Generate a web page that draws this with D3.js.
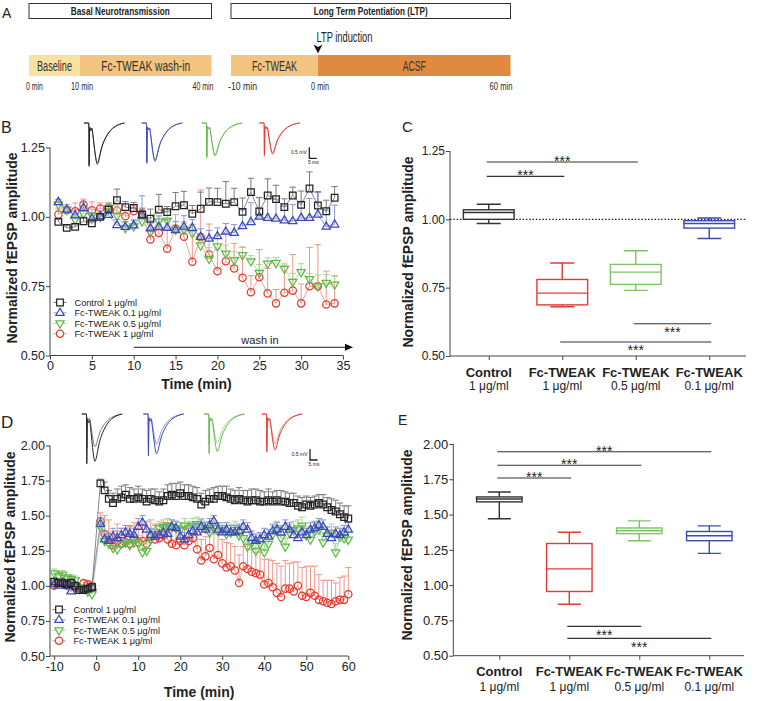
<!DOCTYPE html>
<html><head><meta charset="utf-8">
<script src="https://cdn.jsdelivr.net/npm/d3@7"></script>
<style>
body{margin:0;background:#fff}
svg{display:block}
text{font-family:"Liberation Sans",Arial,Helvetica,sans-serif;fill:#222}
</style>
</head><body>
<svg id="c" width="757" height="701"></svg>
<script>
// ---------------- DATA ----------------
// Panel A protocol
const basalLabels = ["Baseline", "Fc-TWEAK wash-in"];
const basalBounds = [0, 10, 40];
const basalTickLabels = ["0 min", "10 min", "40 min"];
const ltpLabels = ["Fc-TWEAK", "ACSF"];
const ltpBounds = [-10, 0, 60];
const ltpTickLabels = ["-10 min", "0 min", "60 min"];

// Series names / legend
const seriesNames = ["Control 1 μg/ml", "Fc-TWEAK 0.1 μg/ml", "Fc-TWEAK 0.5 μg/ml", "Fc-TWEAK 1 μg/ml"];

// Panel B (basal transmission, wash-in)
const bTime = [1,2,3,4,5,6,7,8,9,10,11,12,13,14,15,16,17,18,19,20,21,22,23,24,25,26,27,28,29,30,31,32,33,34];
const bControl = [0.982,0.960,0.964,0.984,0.977,1.000,1.026,1.060,1.035,1.032,1.008,0.993,1.026,1.017,1.038,1.042,1.011,1.029,1.054,1.053,1.047,1.053,1.018,1.089,1.019,1.077,1.064,1.035,1.077,1.043,1.102,1.041,1.020,1.069];
const bControlErr = [0.01,0.01,0.01,0.015,0.01,0.01,0.02,0.04,0.02,0.02,0.02,0.035,0.055,0.02,0.05,0.05,0.03,0.06,0.05,0.05,0.08,0.05,0.05,0.05,0.05,0.06,0.05,0.03,0.03,0.05,0.06,0.05,0.04,0.04];
const bTw01 = [1.053,1.026,1.005,1.032,0.993,1.002,1.007,0.970,0.963,0.969,1.006,0.958,0.963,0.960,0.952,0.964,0.960,0.927,0.921,0.930,0.946,0.942,0.966,0.981,1.000,0.996,0.993,0.987,0.984,0.996,0.996,1.008,0.964,0.972];
const bTw01Err = [0.01,0.01,0.02,0.02,0.02,0.02,0.02,0.02,0.02,0.02,0.07,0.03,0.04,0.03,0.03,0.04,0.03,0.03,0.03,0.03,0.03,0.03,0.06,0.07,0.07,0.07,0.07,0.05,0.06,0.06,0.07,0.08,0.06,0.07];
const bTw05 = [1.044,1.026,0.990,1.012,1.006,1.000,1.032,1.005,0.960,0.966,0.984,0.945,0.984,0.987,0.954,0.954,0.942,0.897,0.849,0.894,0.868,0.844,0.862,0.840,0.798,0.832,0.834,0.813,0.766,0.801,0.776,0.750,0.762,0.756];
const bTw05Err = [0.01,0.01,0.02,0.02,0.02,0.02,0.02,0.03,0.02,0.02,0.02,0.03,0.02,0.03,0.03,0.03,0.03,0.03,0.04,0.04,0.03,0.03,0.03,0.02,0.03,0.02,0.02,0.02,0.03,0.03,0.02,0.04,0.03,0.03];
const bTw1 = [1.008,1.024,1.020,1.044,1.024,1.030,1.030,1.023,1.002,1.020,1.012,0.918,0.942,0.885,0.958,0.928,0.838,0.927,0.864,0.804,0.840,0.814,0.780,0.728,0.782,0.724,0.688,0.726,0.734,0.688,0.750,0.750,0.684,0.688];
const bTw1Err = [0.02,0.02,0.03,0.02,0.03,0.02,0.02,0.02,0.02,0.02,0.02,0.03,0.03,0.07,0.05,0.05,0.11,0.17,0.11,0.08,0.10,0.09,0.11,0.06,0.10,0.09,0.05,0.10,0.13,0.07,0.14,0.15,0.12,0.10];
const bXTicks = [0,5,10,15,20,25,30,35];
const bYTicks = [0.50,0.75,1.00,1.25];

// Panel D (LTP)
const dTime = [-10,-9,-8,-7,-6,-5,-4,-3,-2,-1,
  1,2,3,4,5,6,7,8,9,10,11,12,13,14,15,16,17,18,19,20,
  21,22,23,24,25,26,27,28,29,30,31,32,33,34,35,36,37,38,39,40,
  41,42,43,44,45,46,47,48,49,50,51,52,53,54,55,56,57,58,59,60];
const dControl = [1.03,1.02,1.02,1.01,1.02,1.00,0.97,0.97,0.98,0.99,
  1.73,1.68,1.62,1.59,1.62,1.63,1.65,1.62,1.62,1.63,
  1.62,1.60,1.62,1.61,1.60,1.61,1.64,1.65,1.64,1.66,
  1.64,1.64,1.63,1.62,1.58,1.60,1.62,1.62,1.64,1.64,
  1.63,1.62,1.61,1.62,1.61,1.60,1.61,1.61,1.60,1.60,
  1.61,1.60,1.61,1.60,1.60,1.59,1.59,1.57,1.56,1.58,
  1.57,1.58,1.59,1.58,1.56,1.54,1.53,1.51,1.49,1.48];
const dControlErr = [0.02,0.02,0.02,0.02,0.03,0.02,0.02,0.02,0.02,0.02,
  0.03,0.06,0.06,0.07,0.07,0.08,0.07,0.08,0.07,0.08,
  0.07,0.08,0.07,0.08,0.07,0.08,0.08,0.08,0.09,0.08,
  0.08,0.08,0.08,0.08,0.08,0.08,0.07,0.08,0.07,0.07,
  0.08,0.07,0.07,0.08,0.07,0.08,0.08,0.08,0.08,0.07,
  0.08,0.07,0.07,0.08,0.07,0.07,0.07,0.07,0.07,0.06,
  0.06,0.06,0.06,0.07,0.07,0.08,0.08,0.08,0.08,0.09];
const dTw01 = [1.01,1.00,1.02,1.00,0.96,1.00,0.98,0.97,0.98,0.99,
  1.44,1.33,1.32,1.35,1.34,1.36,1.38,1.37,1.36,1.42,
  1.45,1.40,1.36,1.35,1.36,1.38,1.37,1.42,1.41,1.35,
  1.33,1.36,1.39,1.38,1.42,1.40,1.43,1.46,1.40,1.38,
  1.40,1.38,1.38,1.39,1.42,1.40,1.34,1.32,1.33,1.36,
  1.35,1.39,1.40,1.38,1.42,1.40,1.36,1.34,1.38,1.36,
  1.40,1.41,1.43,1.42,1.37,1.34,1.37,1.36,1.38,1.40];
const dTw01Err = [0.03,0.03,0.02,0.02,0.03,0.03,0.02,0.02,0.02,0.02,
  0.04,0.06,0.05,0.06,0.05,0.05,0.05,0.06,0.05,0.06,
  0.05,0.06,0.05,0.05,0.04,0.05,0.05,0.05,0.05,0.06,
  0.05,0.05,0.05,0.06,0.05,0.05,0.05,0.04,0.05,0.05,
  0.05,0.05,0.05,0.05,0.05,0.05,0.05,0.05,0.05,0.05,
  0.05,0.05,0.05,0.05,0.05,0.05,0.05,0.05,0.05,0.05,
  0.05,0.05,0.05,0.05,0.05,0.05,0.05,0.05,0.05,0.05];
const dTw05 = [1.09,1.07,1.08,1.06,1.05,1.04,0.99,0.98,0.96,0.94,
  1.42,1.32,1.30,1.27,1.26,1.30,1.31,1.29,1.31,1.30,
  1.24,1.25,1.33,1.37,1.41,1.42,1.43,1.42,1.41,1.40,
  1.43,1.41,1.43,1.44,1.43,1.41,1.38,1.41,1.39,1.40,
  1.37,1.38,1.40,1.36,1.34,1.28,1.31,1.25,1.30,1.24,
  1.30,1.37,1.40,1.34,1.28,1.38,1.40,1.41,1.43,1.36,
  1.33,1.39,1.40,1.31,1.36,1.38,1.24,1.35,1.34,1.33];
const dTw05Err = [0.03,0.03,0.03,0.02,0.03,0.03,0.02,0.02,0.02,0.02,
  0.05,0.06,0.06,0.06,0.06,0.06,0.06,0.06,0.06,0.06,
  0.06,0.06,0.06,0.06,0.05,0.05,0.05,0.05,0.05,0.05,
  0.05,0.05,0.05,0.05,0.05,0.05,0.05,0.05,0.05,0.05,
  0.06,0.06,0.06,0.06,0.06,0.06,0.06,0.06,0.06,0.06,
  0.06,0.06,0.06,0.06,0.06,0.06,0.06,0.06,0.06,0.06,
  0.06,0.06,0.06,0.06,0.06,0.06,0.06,0.06,0.06,0.06];
const dTw1 = [1.00,1.02,1.03,1.00,1.02,0.99,0.97,1.02,1.01,1.00,
  1.46,1.37,1.35,1.29,1.32,1.30,1.31,1.30,1.33,1.31,
  1.32,1.30,1.35,1.33,1.34,1.36,1.33,1.30,1.29,1.32,
  1.29,1.32,1.34,1.26,1.18,1.21,1.27,1.19,1.22,1.16,
  1.13,1.14,1.11,1.02,1.14,1.12,1.10,1.09,1.08,1.01,
  1.02,0.99,0.95,0.92,0.98,0.98,0.96,1.00,0.93,0.92,
  0.95,0.93,0.90,0.89,0.88,0.87,0.89,0.90,0.90,0.94];
const dTw1Err = [0.02,0.03,0.02,0.02,0.03,0.02,0.03,0.02,0.03,0.02,
  0.06,0.13,0.12,0.10,0.12,0.11,0.10,0.12,0.12,0.10,
  0.12,0.10,0.12,0.11,0.10,0.09,0.12,0.11,0.12,0.10,
  0.12,0.12,0.10,0.13,0.15,0.14,0.16,0.18,0.15,0.17,
  0.18,0.16,0.17,0.20,0.14,0.17,0.16,0.15,0.16,0.18,
  0.17,0.19,0.21,0.22,0.20,0.18,0.21,0.17,0.20,0.22,
  0.19,0.21,0.18,0.15,0.16,0.17,0.13,0.16,0.17,0.19];
const dXTicks = [-10,0,10,20,30,40,50,60];
const dYTicks = [0.50,0.75,1.00,1.25,1.50,1.75,2.00];

// Box plot categories
const boxCats = ["Control", "Fc-TWEAK", "Fc-TWEAK", "Fc-TWEAK"];
const boxSubs = ["1 μg/ml", "1 μg/ml", "0.5 μg/ml", "0.1 μg/ml"];
// Panel C
const cMin = [0.985,0.680,0.740,0.930];
const cQ1  = [1.000,0.687,0.762,0.968];
const cMed = [1.025,0.730,0.807,0.985];
const cQ3  = [1.035,0.780,0.835,0.995];
const cMax = [1.055,0.840,0.885,1.005];
const cSigFrom = [0,0,2,1];
const cSigTo   = [2,1,3,3];
const cSigY    = [1.210,1.157,0.618,0.551];
const cSigBelow = [false,false,true,true];
// Panel E
const eMin = [1.470,0.865,1.315,1.225];
const eQ1  = [1.590,0.955,1.365,1.315];
const eMed = [1.610,1.115,1.385,1.350];
const eQ3  = [1.625,1.295,1.405,1.380];
const eMax = [1.660,1.375,1.455,1.420];
const eSigFrom = [0,0,0,1,1];
const eSigTo   = [3,2,1,2,3];
const eSigY    = [1.945,1.849,1.759,0.708,0.623];
const eSigBelow = [false,false,false,true,true];

// Example fEPSP waveform (ms, mV) and relative amplitudes (pre, post)
const traceMs = [0,3.2,3.4,3.8,4.5,5.2,6,7,8,8.8,9.6,10.6,12,14,16,18,20,23,27];
const traceMv = [0,0,-2.0,-0.2,-0.35,-0.25,-0.6,-1.2,-1.7,-1.9,-1.8,-1.5,-1.1,-0.75,-0.5,-0.32,-0.2,-0.08,0];
const bTraceAmp = [[1.0,0.96],[0.92,0.9],[0.8,0.77],[0.76,0.72]];
const dTraceAmp = [[0.78,1.13],[0.72,0.95],[0.7,0.9],[0.72,0.86]];

// ---------------- STYLE ----------------
const col = ["#222222","#3a48b8","#62b849","#e6392c"];
const colLight = ["#7a7a7a","#8c95d6","#a5d895","#f0968a"];
const symbols = [d3.symbolSquare, d3.symbolTriangle, d3.symbolTriangle, d3.symbolCircle];
const symSize = [44, 30, 30, 42];
const symRot = [false,false,true,false];

const svg = d3.select("#c");
svg.append("rect").attr("width",757).attr("height",701).attr("fill","#fff");

function label(txt, x, y, size) {
  svg.append("text").attr("x",x).attr("y",y).text(txt).style("font-size",size+"px");
}

// condensed text: draw then scale horizontally to the wanted width
function squeezed(g, txt, x, y, anchor, size, width, bold, fill) {
  const t = g.append("text").attr("x",0).attr("y",0).attr("text-anchor",anchor)
    .attr("fill",fill||"#222")
    .style("font-size",size+"px").style("font-weight",bold?"bold":"normal").style("fill",fill||"#222").text(txt);
  const len = t.node().getComputedTextLength();
  t.attr("transform",`translate(${x},${y}) scale(${width/len},1)`);
  return t;
}

// ---------------- PANEL A ----------------
label("A", 2, 18, 14);
function protocol(bounds, labels, tickLabels, rangePts, title, titleLen, labelLens, tickLens, segColors) {
  const x = d3.scaleLinear().domain(bounds).range(rangePts);
  const g = svg.append("g");
  const r0 = rangePts[0], r1 = rangePts[rangePts.length-1];
  g.append("rect").attr("x",r0).attr("y",3.5).attr("width",r1-r0).attr("height",15)
    .attr("fill","#fff").attr("stroke","#333").attr("stroke-width",1);
  squeezed(g, title, (r0+r1)/2, 15, "middle", 11, titleLen, true, "#222");
  labels.forEach((l,i) => {
    g.append("rect").attr("x",x(bounds[i])).attr("y",55).attr("width",x(bounds[i+1])-x(bounds[i])).attr("height",21)
      .attr("fill",segColors[i]);
    squeezed(g, l, (x(bounds[i])+x(bounds[i+1]))/2, 71.2, "middle", 14.5, labelLens[i], false, "#333");
  });
  tickLabels.forEach((t,i) => {
    const last = i===tickLabels.length-1;
    const anchor = i===0 ? "start" : (last ? "end" : "middle");
    squeezed(g, t, x(bounds[i]) + (i===0?-3:2), 90, anchor, 11, tickLens[i], false, "#2a2a2a");
  });
  return x;
}
protocol(basalBounds, basalLabels, basalTickLabels, [29,80,211.5], "Basal Neurotransmission", 99,
  [35,89], [17,22,21], ["#f8e2a0","#f2c47f"]);
const xl = protocol(ltpBounds, ltpLabels, ltpTickLabels, [231,318,510.5], "Long Term Potentiation (LTP)", 114,
  [45,23], [29,18,23], ["#f2c47f","#e08a40"]);
squeezed(svg, "LTP induction", xl(0)-1.5, 41.5, "start", 14, 56, false, "#222");
svg.append("path").attr("d",`M${xl(0)-4.5},44.5L${xl(0)},53.5L${xl(0)+4.5},44.5L${xl(0)},47Z`).attr("fill","#111");

// ---------------- TIME SERIES ----------------
function styleAxis(sel, fs) {
  sel.selectAll(".domain").attr("stroke","#444").attr("stroke-width",1);
  sel.selectAll(".tick line").attr("stroke","#444");
  sel.selectAll(".tick text").style("font-size",fs+"px").style("fill","#222")
     .style("font-family",'"Liberation Sans",Arial,sans-serif');
}

function timeSeries(cfg) {
  const x = d3.scaleLinear().domain(cfg.xDomain).range(cfg.xRange);
  const y = d3.scaleLinear().domain(cfg.yDomain).range(cfg.yRange);
  const g = svg.append("g");
  const ax = g.append("g").attr("transform",`translate(0,${cfg.yRange[0]})`)
    .call(d3.axisBottom(x).tickValues(cfg.xTicks).tickSize(4).tickPadding(2).tickSizeOuter(0).tickFormat(d=>String(d)));
  styleAxis(ax, 12.5);
  const ay = g.append("g").attr("transform",`translate(${cfg.xRange[0]},0)`)
    .call(d3.axisLeft(y).tickValues(cfg.yTicks).tickSize(4).tickPadding(1).tickSizeOuter(0).tickFormat(d3.format(".2f")));
  styleAxis(ay, 12.5);
  ay.select(".domain").attr("d",`M0,${cfg.yRange[0]}V${cfg.yRange[1]}`);
  ax.select(".domain").attr("d",`M${cfg.xRange[0]},0H${cfg.xRange[1]}`);

  const order = [3,2,1,0];
  order.forEach(k => {
    const s = cfg.series[k];
    const pts = cfg.time.map((t,i)=>({t, v:s.v[i], e:s.e[i]}));
    g.append("g").attr("stroke",colLight[k]).attr("stroke-width",1).attr("fill","none")
      .selectAll("path").data(pts).join("path")
      .attr("d", d => `M${x(d.t)},${y(d.v)}V${y(d.v+d.e)}M${x(d.t)-3.2},${y(d.v+d.e)}H${x(d.t)+3.2}`);
    g.append("path").datum(pts).attr("fill","none").attr("stroke",colLight[k]).attr("stroke-width",0.9)
      .attr("d", d3.line().x(d=>x(d.t)).y(d=>y(d.v)));
    g.append("g").selectAll("path").data(pts).join("path")
      .attr("transform", d => `translate(${x(d.t)},${y(d.v)})` + (symRot[k] ? " rotate(180)" : ""))
      .attr("d", d3.symbol().type(symbols[k]).size(symSize[k]))
      .attr("fill","none").attr("stroke",col[k]).attr("stroke-width",1.25);
  });
  // legend
  seriesNames.forEach((n,k) => {
    const ly = cfg.legendY[k];
    g.append("line").attr("x1",cfg.legendX-6.5).attr("x2",cfg.legendX+6.5).attr("y1",ly).attr("y2",ly)
      .attr("stroke",colLight[k]).attr("stroke-width",1);
    g.append("path").attr("transform",`translate(${cfg.legendX},${ly})` + (symRot[k]?" rotate(180)":""))
      .attr("d", d3.symbol().type(symbols[k]).size(symSize[k])).attr("fill","#fff").attr("stroke",col[k]).attr("stroke-width",1.2);
    g.append("text").attr("x",cfg.legendX+14.5).attr("y",ly+3.4).style("font-size","9.2px").text(n);
  });
  // axis titles
  g.append("text").attr("transform",`translate(${cfg.yTitleX},${cfg.yTitleY}) rotate(-90)`).attr("text-anchor","middle")
    .style("font-size","14px").style("font-weight","bold").text("Normalized fEPSP amplitude");
  g.append("text").attr("x",(cfg.xRange[0]+cfg.xRange[1])/2).attr("y",cfg.xTitleY).attr("text-anchor","middle")
    .style("font-size","14px").style("font-weight","bold").text("Time (min)");
  return {x,y,g};
}

const B = timeSeries({
  xDomain:[0,35], xRange:[50,343], yDomain:[0.5,1.25], yRange:[355.5,147.5],
  xTicks:bXTicks, yTicks:bYTicks, time:bTime,
  series:[{v:bControl,e:bControlErr},{v:bTw01,e:bTw01Err},{v:bTw05,e:bTw05Err},{v:bTw1,e:bTw1Err}],
  legendX:60, legendY:[302.5,312.9,323.3,333.7], yTitleX:16.5, yTitleY:248, xTitleY:389
});
// wash in arrow
B.g.append("line").attr("x1",B.x(10)).attr("x2",346).attr("y1",347.3).attr("y2",347.3).attr("stroke","#222").attr("stroke-width",1);
B.g.append("path").attr("d",`M345,343.8L353,347.3L345,350.8Z`).attr("fill","#111");
B.g.append("text").attr("x",260).attr("y",343.5).attr("text-anchor","middle").style("font-size","11px").text("wash in");

const D = timeSeries({
  xDomain:[-11,60], xRange:[50,348.3], yDomain:[0.5,2.0], yRange:[656,445.5],
  xTicks:dXTicks, yTicks:dYTicks, time:dTime,
  series:[{v:dControl,e:dControlErr},{v:dTw01,e:dTw01Err},{v:dTw05,e:dTw05Err},{v:dTw1,e:dTw1Err}],
  legendX:59, legendY:[609.5,619.9,630.3,640.7], yTitleX:14.5, yTitleY:547, xTitleY:697
});

label("B", 1, 133, 16);
label("D", 1, 428, 17);
label("C", 402, 132, 15);
label("E", 398, 425, 14);

// ---------------- TRACES ----------------
function traces(originsX, baseY, amps, scaleX, scaleY) {
  originsX.forEach((ox,k) => {
    const tx = d3.scaleLinear().domain([0,5]).range([ox, ox+7.5]);
    amps[k].forEach((a,j) => {
      const ty = d3.scaleLinear().domain([0,0.5]).range([baseY, baseY-11]);
      const line = d3.line().x((d,i)=>tx(traceMs[i])).y((d,i)=>ty(traceMv[i]*a)).curve(d3.curveMonotoneX);
      svg.append("path").datum(traceMs).attr("d",line).attr("fill","none")
        .attr("stroke", j===0 ? colLight[k] : col[k]).attr("stroke-width",1.0);
    });
  });
  const sx = scaleX, sy = scaleY;
  svg.append("path").attr("d",`M${sx},${sy-11}V${sy}H${sx+7.5}`).attr("fill","none").attr("stroke","#222").attr("stroke-width",1.3);
  svg.append("text").attr("x",sx-2.5).attr("y",sy-4).attr("text-anchor","end").style("font-size","5px").text("0.5 mV");
  svg.append("text").attr("x",sx+4).attr("y",sy+6).attr("text-anchor","middle").style("font-size","5px").text("5 ms");
}
traces([84,141.7,201.7,259.3], 123, bTraceAmp, 309.3, 158.3);
traces([81.7,143.3,204,261.7], 414, dTraceAmp, 310, 460);

// ---------------- BOX PLOTS ----------------
function boxPanel(cfg) {
  const idx = [0,1,2,3];
  const x = d3.scalePoint().domain(idx).range(cfg.catRange).padding(0.5);
  const y = d3.scaleLinear().domain(cfg.yDomain).range(cfg.yRange);
  const g = svg.append("g");
  const ay = g.append("g").attr("transform",`translate(${cfg.axisX},0)`)
    .call(d3.axisLeft(y).tickValues(cfg.yTicks).tickSize(4).tickPadding(1).tickSizeOuter(0).tickFormat(d3.format(".2f")));
  styleAxis(ay, cfg.tickFs);
  ay.select(".domain").attr("d",`M0,${cfg.yRange[0]}V${cfg.yRange[1]}`);
  const ax = g.append("g").attr("transform",`translate(0,${cfg.yRange[0]})`)
    .call(d3.axisBottom(x).tickSize(4).tickSizeOuter(0).tickFormat(""));
  styleAxis(ax, 12);
  ax.select(".domain").attr("d",`M${cfg.axisX},0H${cfg.axisEnd}`);
  idx.forEach(i => {
    g.append("text").attr("x",x(i)).attr("y",cfg.catY1).attr("text-anchor","middle")
      .style("font-size","13px").style("font-weight","bold").text(boxCats[i]);
    g.append("text").attr("x",x(i)).attr("y",cfg.catY2).attr("text-anchor","middle")
      .style("font-size","12px").text(boxSubs[i]);
  });
  if (cfg.refLine !== undefined) {
    g.append("line").attr("x1",cfg.axisX).attr("x2",cfg.axisEnd).attr("y1",y(cfg.refLine)).attr("y2",y(cfg.refLine))
      .attr("stroke","#222").attr("stroke-width",1.2).attr("stroke-dasharray","1.5,1.8");
  }
  const bw = x.step()*cfg.boxFrac, cw = cfg.capW;
  idx.forEach(i => {
    const bx = x(i), c = cfg.colors[i];
    const gg = g.append("g").attr("stroke",c).attr("stroke-width",1.4).attr("fill","none");
    gg.append("path").attr("d",`M${bx},${y(cfg.q3[i])}V${y(cfg.max[i])}M${bx-cw/2},${y(cfg.max[i])}H${bx+cw/2}`);
    gg.append("path").attr("d",`M${bx},${y(cfg.q1[i])}V${y(cfg.min[i])}M${bx-cw/2},${y(cfg.min[i])}H${bx+cw/2}`);
    gg.append("rect").attr("x",bx-bw/2).attr("width",bw).attr("y",y(cfg.q3[i])).attr("height",y(cfg.q1[i])-y(cfg.q3[i])).attr("fill","#fff");
    gg.append("line").attr("x1",bx-bw/2).attr("x2",bx+bw/2).attr("y1",y(cfg.med[i])).attr("y2",y(cfg.med[i]));
  });
  cfg.sigFrom.forEach((f,i) => {
    const yy = y(cfg.sigY[i]);
    g.append("line").attr("x1",x(f)-2).attr("x2",x(cfg.sigTo[i])+2).attr("y1",yy).attr("y2",yy)
      .attr("stroke","#333").attr("stroke-width",1.1);
    g.append("text").attr("x",(x(f)+x(cfg.sigTo[i]))/2).attr("y", yy + (cfg.sigBelow[i] ? 13.2 : 3.8))
      .attr("text-anchor","middle").style("font-size","14px").text("***");
  });
  g.append("text").attr("transform",`translate(${cfg.yTitleX},${cfg.yTitleY}) rotate(-90)`).attr("text-anchor","middle")
    .style("font-size","14px").style("font-weight","bold").text("Normalized fEPSP amplitude");
}
const boxColors = ["#333333","#e23b36","#7cc464","#3a4cb4"];
boxPanel({
  catRange:[452,746], yDomain:[0.5,1.25], yRange:[356,151], axisX:450, axisEnd:746, yTicks:bYTicks, tickFs:12,
  catY1:376.7, catY2:390, refLine:1.0, boxFrac:0.69, capW:24, colors:boxColors,
  min:cMin, q1:cQ1, med:cMed, q3:cQ3, max:cMax,
  sigFrom:cSigFrom, sigTo:cSigTo, sigY:cSigY, sigBelow:cSigBelow, yTitleX:412.5, yTitleY:252
});
boxPanel({
  catRange:[464.3,744.3], yDomain:[0.5,2.0], yRange:[655.7,444], axisX:453.3, axisEnd:744, yTicks:dYTicks, tickFs:13,
  catY1:676, catY2:690.5, boxFrac:0.65, capW:23, colors:boxColors,
  min:eMin, q1:eQ1, med:eMed, q3:eQ3, max:eMax,
  sigFrom:eSigFrom, sigTo:eSigTo, sigY:eSigY, sigBelow:eSigBelow, yTitleX:412, yTitleY:545
});
</script>
</body></html>
